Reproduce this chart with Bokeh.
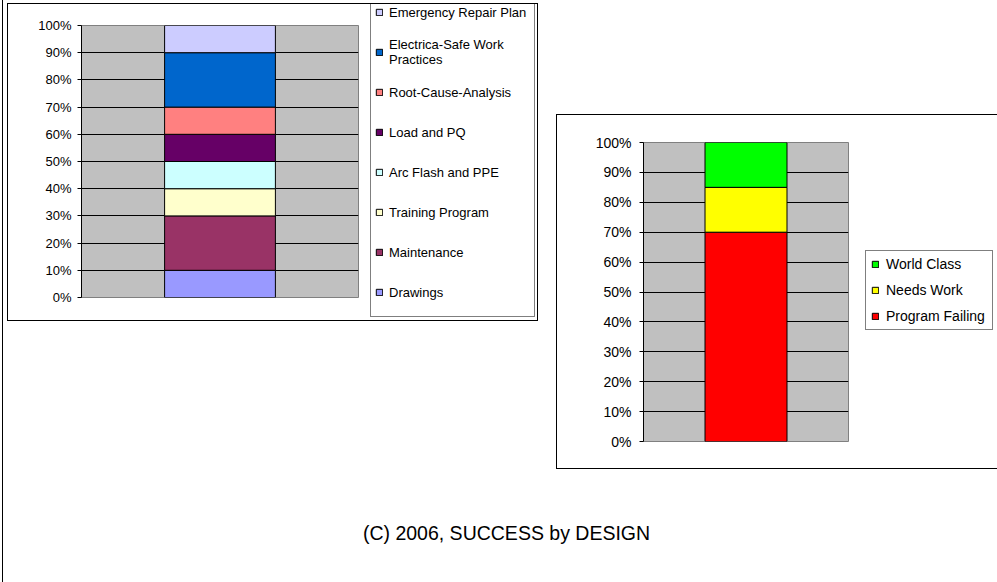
from bokeh.plotting import figure
from bokeh.models import (ColumnDataSource, FactorRange, Range1d, FixedTicker,
                          PrintfTickFormatter, Legend, LegendItem, Spacer)
from bokeh.layouts import row, column
from bokeh.core.properties import value
from bokeh.embed import file_html
from bokeh.resources import INLINE

# ---------------- data ----------------
left_names = ["Drawings", "Maintenance", "Training Program", "Arc Flash and PPE",
              "Load and PQ", "Root-Cause-Analysis", "Electrica-Safe Work\nPractices",
              "Emergency Repair Plan"]
left_values = [10, 20, 10, 10, 10, 10, 20, 10]
left_colors = ["#9999FF", "#993366", "#FFFFCC", "#CCFFFF", "#660066", "#FF8080",
               "#0066CC", "#CCCCFF"]

right_names = ["Program Failing", "Needs Work", "World Class"]
right_values = [70, 15, 15]
right_colors = ["#FF0000", "#FFFF00", "#00FF00"]

category = ["1"]
y_ticks = [0, 10, 20, 30, 40, 50, 60, 70, 80, 90, 100]
footer_text = "(C) 2006, SUCCESS by DESIGN"

FONT = "Liberation Sans"


def add_stack(p, values, colors):
    keys = [f"s{i}" for i in range(len(values))]
    data = {"x": category}
    for k, v in zip(keys, values):
        data[k] = [v]
    src = ColumnDataSource(data=data)
    return p.vbar_stack(keys, x="x", width=0.4, source=src, fill_color=colors,
                        line_color="black", line_width=1)


def stacked_chart(values, colors, width, height, borders, font_px, standoff):
    p = figure(width=width, height=height, x_range=FactorRange(factors=category, range_padding=0),
               y_range=Range1d(0, 100), output_backend="svg", toolbar_location=None,
               x_axis_location=None, min_border_left=borders[0], min_border_right=borders[1],
               min_border_top=borders[2], min_border_bottom=borders[3])
    p.background_fill_color = "#C0C0C0"
    p.border_fill_color = "white"
    p.outline_line_color = "#808080"
    p.xgrid.visible = False
    p.ygrid.ticker = FixedTicker(ticks=y_ticks)
    p.ygrid.grid_line_color = "black"
    p.ygrid.grid_line_width = 1
    ax = p.yaxis[0]
    ax.ticker = FixedTicker(ticks=y_ticks)
    ax.formatter = PrintfTickFormatter(format="%d%%")
    ax.axis_line_color = "black"
    ax.major_tick_line_color = "black"
    ax.major_tick_out = 4
    ax.major_tick_in = 0
    ax.minor_tick_line_color = None
    ax.major_label_text_font = FONT
    ax.major_label_text_font_size = f"{font_px}px"
    ax.major_label_text_color = "black"
    ax.major_label_standoff = standoff
    add_stack(p, values, colors)
    return p


def legend_panel(names, values, colors, width, height, font_px, loc, cfg):
    p = figure(width=width, height=height, x_range=FactorRange(factors=category),
               y_range=Range1d(0, 100), output_backend="svg", toolbar_location=None,
               x_axis_location=None, y_axis_location=None, min_border=0)
    p.outline_line_color = None
    p.grid.visible = False
    p.background_fill_color = "white"
    p.border_fill_color = "white"
    rs = add_stack(p, values, colors)
    for r in rs:
        r.visible = False
    items = [LegendItem(label=n, renderers=[r]) for n, r in zip(names, rs)][::-1]
    leg = Legend(items=items, location=loc, orientation="vertical",
                 border_line_color="black", border_line_width=1,
                 background_fill_color="white", background_fill_alpha=1,
                 inactive_fill_alpha=0,
                 label_text_font=FONT, label_text_font_size=f"{font_px}px",
                 label_text_color="black", glyph_width=8, glyph_height=8,
                 margin=0, **cfg)
    p.add_layout(leg)
    return p


left_chart = stacked_chart(left_values, left_colors, 362, 316, (73, 12, 21, 23), 13, 6)
left_legend = legend_panel(left_names, left_values, left_colors, 167, 316, 13, (0, 3),
                           dict(padding=4, spacing=0, label_height=40,
                                label_standoff=6, label_width=141))
left_wrap = row(left_chart, column(Spacer(width=1, height=0), left_legend),
                styles={"border": "1px solid black"})

right_chart = stacked_chart(right_values, right_colors, 300, 353, (86, 9, 27, 27), 14, 8)
right_legend = legend_panel(right_names, right_values, right_colors, 140, 353, 14, (8, 111),
                            dict(padding=5, spacing=10, label_height=16,
                                 label_standoff=7, label_width=101))
right_wrap = row(right_chart, right_legend,
                 styles={"border-left": "1px solid black", "border-top": "1px solid black",
                         "border-bottom": "1px solid black"})

footer_fig = figure(width=600, height=40, x_range=Range1d(0, 1), y_range=Range1d(0, 1),
                    x_axis_location=None, y_axis_location=None, min_border=0,
                    output_backend="svg", toolbar_location=None)
footer_fig.outline_line_color = None
footer_fig.grid.visible = False
footer_fig.text(x=[0.5], y=[0.5], text=[footer_text], text_align="center",
                text_baseline="middle", text_font=value(FONT), text_font_size="19.5px",
                text_color="black")

vline = Spacer(width=1, height=582, styles={"background-color": "black"})
left_col = column(Spacer(width=1, height=3), left_wrap)
right_col = column(Spacer(width=1, height=114), right_wrap)
charts_row = row(left_col, Spacer(width=18, height=1), right_col)
footer_row = row(Spacer(width=199, height=1), footer_fig)
main_col = column(charts_row, Spacer(width=1, height=43), footer_row)
root = row(Spacer(width=2, height=582), vline, Spacer(width=4, height=582), main_col)

open("out.html", "w").write(file_html(root, INLINE))
